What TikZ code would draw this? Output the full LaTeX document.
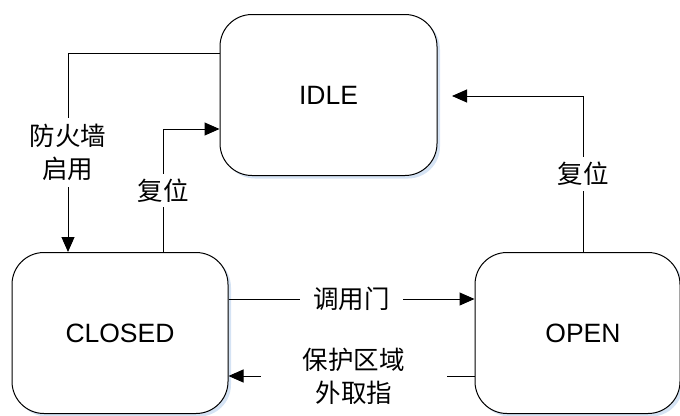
\documentclass[tikz,border=0pt]{standalone}
\usepackage{fontspec}
\setmainfont{Liberation Sans}
\newfontfamily\cjk{Noto Sans CJK SC}
\usetikzlibrary{shadows,arrows.meta}
\definecolor{shadowblue}{HTML}{D5E3F4}
\begin{document}
\begin{tikzpicture}[x=1pt,y=-1pt,
  state/.style={draw, line width=1pt, rounded corners=32pt, fill=white,
    minimum height=161pt, inner sep=0pt,
    font=\fontsize{26.5}{30}\selectfont,
    general shadow={fill=shadowblue, shadow xshift=3pt, shadow yshift=-3pt}},
  conn/.style={line width=1pt, -{Triangle[length=15pt,width=13pt]}},
  lbl/.style={fill=white, font=\cjk\fontsize{25.5}{33}\selectfont, align=center, inner xsep=2pt, inner ysep=6pt}]
\useasboundingbox (0,0) rectangle (680,415);

\node[state, minimum width=217pt] (idle) at (328.5,95) {IDLE};
\node[state, minimum width=216pt] (closed) at (120,333) {CLOSED};
\node[state, minimum width=205pt] (open) at (577.5,333) {};
\node[font=\fontsize{26.5}{30}\selectfont, inner sep=0pt] (opentext) at (583,333) {OPEN};

% firewall enabled
\draw[conn] (idle.west |- 0,53) -| (68,0 |- closed.north)
  node[lbl, pos=0.75] (fwlbl) {防火墙\\启用};

% reset from CLOSED to IDLE
\draw[conn] (163,0 |- closed.north) |- (idle.west |- 0,129)
  node[lbl, pos=0.25, inner ysep=5pt] (rst1) {复位};

% reset from OPEN to IDLE
\coordinate (rtip) at (452,96);
\draw[conn] (583,0 |- open.north) |- (rtip)
  node[lbl, pos=0.25, inner ysep=5pt] (rst2) {复位};

% call gate
\draw[conn] (closed.east |- 0,299) -- (open.west |- 0,299)
  node[lbl, midway, inner xsep=13pt, inner ysep=2pt] (call) {调用门};

% fetch outside protected region
\draw[conn] (open.west |- 0,376) -- (closed.east |- 0,376)
  node[lbl, pos=0.49, inner xsep=42pt, inner ysep=2pt] (fetch) {保护区域\\外取指};
\end{tikzpicture}
\end{document}
